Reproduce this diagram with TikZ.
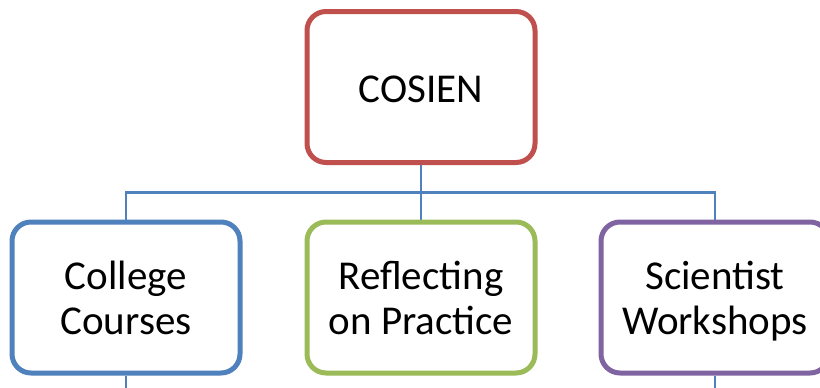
\documentclass[tikz,border=0pt]{standalone}
\usepackage{fontspec}
\setmainfont{Carlito}
\usetikzlibrary{backgrounds}
\definecolor{cred}{HTML}{C0504D}
\definecolor{cblue}{HTML}{4F81BD}
\definecolor{cgreen}{HTML}{9BBB59}
\definecolor{cpurple}{HTML}{8064A2}
\newcommand{\topstrut}{\rule{0pt}{41.5pt}}
\begin{document}
\begin{tikzpicture}[x=1pt,y=-1pt,
  box/.style={draw, rectangle, rounded corners=19pt, line width=5pt, fill=white,
    minimum width=228pt, minimum height=151pt, align=center,
    font=\fontsize{41pt}{45pt}\selectfont, text=black, inner sep=0pt},
  conn/.style={draw=cblue, line width=2.5pt}]
\clip (0,0) rectangle (820,388);
\useasboundingbox (0,0) rectangle (820,388);
\node[box, draw=cred] (top) at (421,87) {\rule{0pt}{31pt}COSIEN};
\node[box, draw=cblue] (left) at (126,297.5) {\topstrut College\\\strut Courses};
\node[box, draw=cgreen] (mid) at (421,297.5) {\topstrut Reflecting\\\strut on Practice};
\node[box, draw=cpurple] (right) at (715,297.5) {\topstrut Scientist\\\strut Workshops};
\coordinate (bus) at (421,192.5);
\coordinate (lb) at (126,395);
\coordinate (rb) at (715,395);
\begin{scope}[on background layer]
\fill[white] (0,0) rectangle (820,388);
\draw[conn] (top.south) -- (bus);
\draw[conn] (bus) -| (left.north);
\draw[conn] (bus) -| (right.north);
\draw[conn] (bus) -- (mid.north);
\draw[conn] (left.south) -- (lb);
\draw[conn] (right.south) -- (rb);
\end{scope}
\end{tikzpicture}
\end{document}
